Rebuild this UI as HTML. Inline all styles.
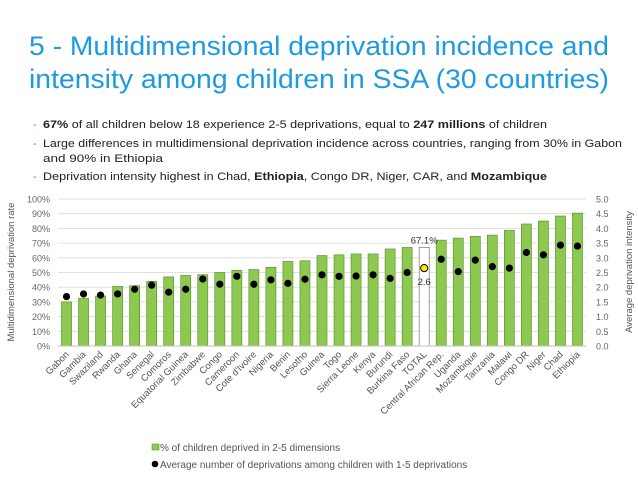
<!DOCTYPE html>
<html><head><meta charset="utf-8"><style>
body{margin:0;background:#fff}
svg{display:block;font-family:"Liberation Sans",Arial,sans-serif}
</style></head><body>
<svg id="c" width="638" height="479" viewBox="0 0 638 479">
<text x="29" y="55" font-size="27" fill="#1E9BE0" textLength="580" lengthAdjust="spacingAndGlyphs">5 - Multidimensional deprivation incidence and</text>
<text x="29" y="88" font-size="27" fill="#1E9BE0" textLength="580" lengthAdjust="spacingAndGlyphs">intensity among children in SSA (30 countries)</text>
<g font-size="11" fill="#222">
<text x="33" y="128" fill="#1E9BE0">-</text>
<text x="43" y="128" textLength="504" lengthAdjust="spacingAndGlyphs"><tspan font-weight="bold">67%</tspan> of all children below 18 experience 2-5 deprivations, equal to <tspan font-weight="bold">247 millions</tspan> of children</text>
<text x="33" y="147" fill="#1E9BE0">-</text>
<text x="43" y="147" font-size="11" textLength="579" lengthAdjust="spacingAndGlyphs">Large differences in multidimensional deprivation incidence across countries, ranging from 30% in Gabon</text>
<text x="43" y="162" font-size="11" textLength="120" lengthAdjust="spacingAndGlyphs">and 90% in Ethiopia</text>
<text x="33" y="180" fill="#1E9BE0">-</text>
<text x="43" y="180" textLength="504" lengthAdjust="spacingAndGlyphs">Deprivation intensity highest in Chad, <tspan font-weight="bold">Ethiopia</tspan>, Congo DR, Niger, CAR, and <tspan font-weight="bold">Mozambique</tspan></text>
</g>
<g id="plot"></g>
<text x="14" y="272" font-size="9.5" fill="#555" transform="rotate(-90 14 272)" text-anchor="middle">Multidimensional deprivation rate</text>
<text x="632" y="272" font-size="9.5" fill="#555" transform="rotate(-90 632 272)" text-anchor="middle">Average deprivation intensity</text>
<rect x="152" y="444" width="7" height="6" fill="#8DC950" stroke="#5E9431" stroke-width="0.6"/>
<text x="160" y="451" font-size="10" fill="#555">% of children deprived in 2-5 dimensions</text>
<circle cx="155" cy="464" r="3.3" fill="#000"/>
<text x="160" y="468" font-size="10" fill="#555">Average number of deprivations among children with 1-5 deprivations</text>
</svg>
<script>
const categories=["Gabon","Gambia","Swaziland","Rwanda","Ghana","Senegal","Comoros","Equatorial Guinea","Zimbabwe","Congo","Cameroon","Cote d'Ivoire","Nigeria","Benin","Lesotho","Guinea","Togo","Sierra Leone","Kenya","Burundi","Burkina Faso","TOTAL","Central African Rep.","Uganda","Mozambique","Tanzania","Malawi","Congo DR","Niger","Chad","Ethiopia"];
const rates=[30,32.5,34,40.5,41,44,47,48,48.5,50,51.5,52,53.5,57.5,58,61.5,62,62.6,62.6,66,67,67.1,72,73.4,74.6,75.4,78.6,83,85,88.4,90.4];
const intensity=[1.68,1.77,1.73,1.77,1.93,2.07,1.83,1.93,2.28,2.1,2.37,2.1,2.25,2.13,2.27,2.42,2.37,2.38,2.42,2.3,2.5,2.65,2.95,2.53,2.92,2.7,2.65,3.18,3.1,3.43,3.4];
const leftTicks=[0,10,20,30,40,50,60,70,80,90,100];
const rightTicks=[0,0.5,1,1.5,2,2.5,3,3.5,4,4.5,5];
const totalIndex=21;
const NS="http://www.w3.org/2000/svg";
const g=document.getElementById('plot');
const x0=58,x1=586,yB=346,yT=199;
const step=(x1-x0)/categories.length;
const xc=i=>x0+step*(i+0.5);
const yL=v=>yB-(yB-yT)*v/100;
const yR=v=>yB-(yB-yT)*v/5;
function mk(t,a){const e=document.createElementNS(NS,t);for(const k in a)e.setAttribute(k,a[k]);g.appendChild(e);return e;}
leftTicks.forEach((t,i)=>{
 const l=mk('line',{x1:x0,x2:x1,y1:yL(t),y2:yL(t),stroke:'#d9d9d9','stroke-width':0.8});
 
 
 const tx=mk('text',{x:x0-8,y:yL(t)+3.5,'font-size':9,fill:'#666','text-anchor':'end'});
 tx.textContent=t+'%';
 
 
});
rightTicks.forEach(t=>{
 const tx=mk('text',{x:x1+10,y:yR(t)+3.5,'font-size':9,fill:'#666'});
 tx.textContent=t.toFixed(1);
 
 
});
const bw=10;
categories.forEach((c,i)=>{
 const tot=i===totalIndex;
 const r=mk('rect',{x:xc(i)-bw/2,y:yL(rates[i]),width:bw,height:yB-yL(rates[i]),fill:tot?'#fff':'#8DC950',stroke:tot?'#777':'#5E9431','stroke-width':0.7});
 
 
 const d=mk('circle',{cx:xc(i),cy:yR(intensity[i]),r:3.6,fill:tot?'#FFE600':'#000',stroke:'#000','stroke-width':tot?1:0});
 
 
 const lx=xc(i)+3,ly=yB+9;
 const t=mk('text',{x:lx,y:ly,'font-size':9.5,fill:'#555','text-anchor':'end',transform:`rotate(-45 ${lx} ${ly})`});
 t.textContent=c;
 
 
});
const ax=mk('line',{x1:x0,x2:x1,y1:yB,y2:yB,stroke:'#bfbfbf','stroke-width':1});


const lt=mk('text',{x:xc(totalIndex),y:yL(rates[totalIndex])-4,'font-size':9.5,fill:'#333','text-anchor':'middle'});
lt.textContent=rates[totalIndex].toFixed(1)+'%';


const it=mk('text',{x:xc(totalIndex),y:yR(intensity[totalIndex])+17,'font-size':9.5,fill:'#333','text-anchor':'middle'});
it.textContent=intensity[totalIndex].toFixed(1);


</script>
</body></html>
